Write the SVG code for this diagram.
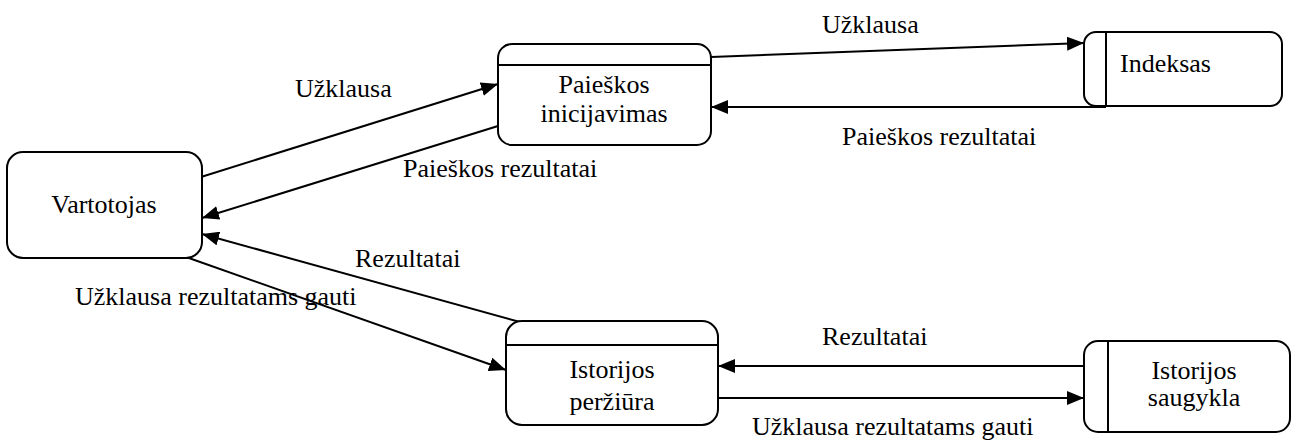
<svg xmlns="http://www.w3.org/2000/svg" width="1298" height="441" viewBox="0 0 1298 441" font-family="'Liberation Serif', 'Times New Roman', 'DejaVu Serif', serif">
<defs>
<style>
.box{fill:#fff;stroke:#000;stroke-width:2}
.sep{stroke:#000;stroke-width:2}
.lbl{font-family:'Liberation Serif','Times New Roman','DejaVu Serif',serif;font-size:26px;fill:#000}
.c{text-anchor:middle}
.edge{stroke:#000;stroke-width:2;fill:none;marker-end:url(#ah)}
</style>
<marker id="ah" markerUnits="userSpaceOnUse" markerWidth="18" markerHeight="14" refX="17" refY="7" orient="auto">
<path d="M0,0 L17,7 L0,14 Z" fill="#000"/>
</marker>
</defs>
<rect width="1298" height="441" fill="#fff"/>
<g id="connectors">
<line class="edge" x1="201" y1="177" x2="498" y2="84"/>
<line class="edge" x1="498" y1="126" x2="202" y2="218"/>
<line class="edge" x1="520" y1="322" x2="202" y2="234"/>
<line class="edge" x1="186" y1="257" x2="506" y2="370"/>
<line class="edge" x1="711" y1="57" x2="1084" y2="43"/>
<line class="edge" x1="1106" y1="107" x2="711" y2="107"/>
<line class="edge" x1="1108" y1="366" x2="718" y2="366"/>
<line class="edge" x1="718" y1="398" x2="1084" y2="398"/>
<text class="lbl" x="295" y="97">Užklausa</text>
<text class="lbl" x="403" y="177">Paieškos rezultatai</text>
<text class="lbl" x="355" y="267">Rezultatai</text>
<text class="lbl" x="75" y="305">Užklausa rezultatams gauti</text>
<text class="lbl" x="822" y="33">Užklausa</text>
<text class="lbl" x="842" y="145">Paieškos rezultatai</text>
<text class="lbl" x="822" y="345">Rezultatai</text>
<text class="lbl" x="752" y="435">Užklausa rezultatams gauti</text>
</g>
<g id="vartotojas">
<rect class="box" x="7" y="152" width="195" height="106" rx="16"/>
<text class="lbl c" x="104" y="213">Vartotojas</text>
</g>
<g id="paieskos">
<rect class="box" x="498" y="44" width="213" height="101" rx="14"/>
<line class="sep" x1="498" y1="65" x2="711" y2="65"/>
<text class="lbl c" x="604" y="93">Paieškos</text>
<text class="lbl c" x="604" y="122">inicijavimas</text>
</g>
<g id="indeksas">
<rect class="box" x="1084" y="32" width="198" height="74" rx="12"/>
<line class="sep" x1="1106" y1="32" x2="1106" y2="106"/>
<text class="lbl" x="1120" y="72">Indeksas</text>
</g>
<g id="istorijos-perziura">
<rect class="box" x="506" y="321" width="212" height="104" rx="16"/>
<line class="sep" x1="506" y1="345" x2="718" y2="345"/>
<text class="lbl c" x="612" y="378">Istorijos</text>
<text class="lbl c" x="612" y="410">peržiūra</text>
</g>
<g id="istorijos-saugykla">
<rect class="box" x="1084" y="341" width="206" height="91" rx="14"/>
<line class="sep" x1="1108" y1="341" x2="1108" y2="432"/>
<text class="lbl c" x="1194" y="379">Istorijos</text>
<text class="lbl c" x="1194" y="406">saugykla</text>
</g>
</svg>
